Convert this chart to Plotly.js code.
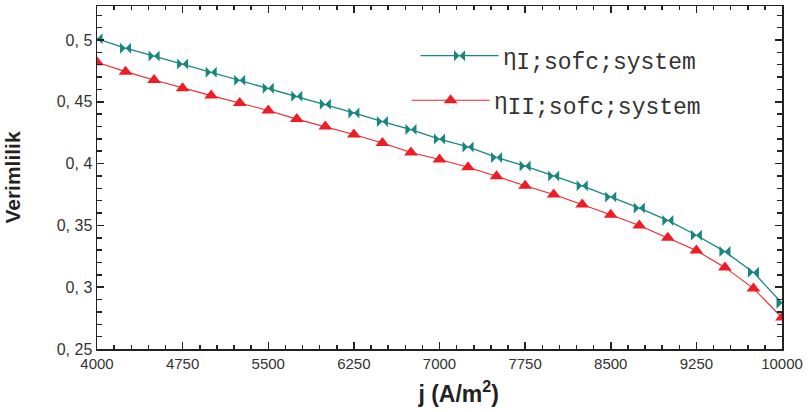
<!DOCTYPE html>
<html>
<head>
<meta charset="utf-8">
<script src="https://cdn.plot.ly/plotly-3.0.1.min.js"></script>
<style>html,body{margin:0;padding:0;background:#fff;}#chart{width:808px;height:412px;}</style>
</head>
<body>
<div id="chart"></div>
<script>
var currentDensity = [4000,4250,4500,4750,5000,5250,5500,5750,6000,6250,6500,6750,7000,7250,7500,7750,8000,8250,8500,8750,9000,9250,9500,9750,10000];
var etaI = [0.501,0.4934,0.487,0.4805,0.474,0.4675,0.461,0.4545,0.448,0.441,0.434,0.4275,0.4198,0.4135,0.405,0.398,0.390,0.382,0.373,0.364,0.354,0.342,0.3288,0.312,0.287];
var etaII = [0.482,0.4744,0.4676,0.461,0.455,0.449,0.443,0.436,0.430,0.4235,0.4167,0.409,0.4033,0.397,0.3897,0.382,0.375,0.367,0.3586,0.350,0.340,0.3296,0.316,0.299,0.2754];
var yTickVals = [0.25,0.3,0.35,0.4,0.45,0.5];
var yTickText = ["0, 25","0, 3","0, 35","0, 4","0, 45","0, 5"];
var xTickVals = [4000,4750,5500,6250,7000,7750,8500,9250,10000];
var xTickText = ["4000","4750","5500","6250","7000","7750","8500","9250","10000"];
var subStyle = "font-family:'Liberation Mono',monospace;font-size:23px";
var seriesNames = [
  "η<sub><span style=\"" + subStyle + "\">I;sofc;system</span></sub>",
  "η<sub><span style=\"" + subStyle + "\">II;sofc;system</span></sub>"
];

var traces = [
  {x: currentDensity, y: etaI, name: seriesNames[0], mode: 'lines+markers', legend: 'legend',
   line: {color: '#17877f', width: 1.3}, marker: {symbol: 'bowtie', size: 11, color: '#17877f'}},
  {x: currentDensity, y: etaII, name: seriesNames[1], mode: 'lines+markers', legend: 'legend2',
   line: {color: '#f0252a', width: 1.1}, marker: {symbol: 'triangle-up', size: 12, color: '#ee1c24'}}
];

var tickFontY = {family: 'Liberation Sans, Arial, sans-serif', size: 16, color: '#333'};
var tickFontX = {family: 'Liberation Sans, Arial, sans-serif', size: 15, color: '#333'};
var legFont = {family: 'Liberation Sans, Arial, sans-serif', size: 23, color: '#333'};

var layout = {
  width: 808, height: 412,
  margin: {l: 97, r: 26, t: 6, b: 63},
  paper_bgcolor: '#fff', plot_bgcolor: '#fff',
  showlegend: true,
  legend: {x: 0.465, y: 0.855, xanchor: 'left', yanchor: 'middle', bgcolor: 'rgba(0,0,0,0)', font: legFont, itemwidth: 78},
  legend2: {x: 0.452, y: 0.725, xanchor: 'left', yanchor: 'middle', bgcolor: 'rgba(0,0,0,0)', font: legFont, itemwidth: 78},
  xaxis: {
    range: [4000, 10000], tickmode: 'array', tickvals: xTickVals, ticktext: xTickText,
    ticks: 'inside', ticklen: 7, tickwidth: 1.5, tickcolor: '#222',
    minor: {tickmode: 'linear', dtick: 150, tick0: 4000, ticks: 'inside', ticklen: 4, tickwidth: 1.5, tickcolor: '#222'},
    showline: true, linecolor: '#222', linewidth: 1.5, mirror: 'allticks', showgrid: false, zeroline: false,
    tickfont: tickFontX,
    title: {text: '&nbsp;&nbsp;&nbsp;&nbsp;&nbsp;&nbsp;<b>j (A/m<sup>2</sup>)</b>', font: {family: 'Liberation Sans, Arial, sans-serif', size: 23, color: '#222'}, standoff: 15}
  },
  yaxis: {
    range: [0.25, 0.5275], tickmode: 'array', tickvals: yTickVals, ticktext: yTickText,
    ticks: 'inside', ticklen: 7, tickwidth: 1.5, tickcolor: '#222',
    minor: {tickmode: 'linear', dtick: 0.01, tick0: 0.25, ticks: 'inside', ticklen: 5, tickwidth: 1.5, tickcolor: '#222'},
    showline: true, linecolor: '#222', linewidth: 1.5, mirror: 'allticks', showgrid: false, zeroline: false,
    tickfont: tickFontY,
    title: {text: '<b>Verimlilik</b>', font: {family: 'Liberation Sans, Arial, sans-serif', size: 21, color: '#222'}, standoff: 30}
  }
};

Plotly.newPlot('chart', traces, layout, {displayModeBar: false, staticPlot: true});
</script>
</body>
</html>
